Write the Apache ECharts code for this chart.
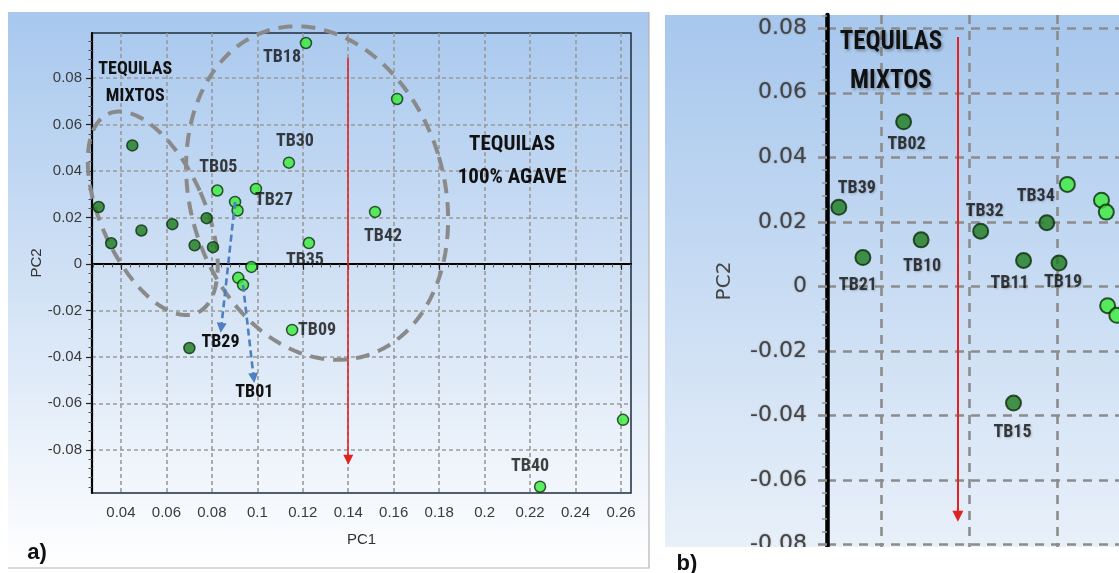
<!DOCTYPE html>
<html>
<head>
<meta charset="utf-8">
<script src="https://cdn.jsdelivr.net/npm/echarts@6/dist/echarts.min.js"></script>
<style>
  html, body { margin: 0; padding: 0; background: #ffffff; }
  #chart { width: 1119px; height: 573px; }
</style>
</head>
<body>
<div id="chart"></div>
<script>
// PCA scores (PC1, PC2) of the tequila samples
const mixtosNames = ['TB39', 'TB21', 'TB02', 'TB10', 'TB32', 'TB11', 'TB34', 'TB19', 'TB15'];
const mixtosPC1 = [0.0302, 0.0357, 0.0450, 0.0490, 0.0626, 0.0724, 0.0777, 0.0805, 0.0701];
const mixtosPC2 = [0.0245, 0.0089, 0.0510, 0.0144, 0.0171, 0.0080, 0.0197, 0.0072, -0.0362];

const agaveNames = ['TB05', 'TB29', '', 'TB27', 'TB30', 'TB18', 'TB35', '', '', 'TB01', 'TB09', 'TB42', '', 'TB40', ''];
const agavePC1 = [0.0824, 0.0902, 0.0913, 0.0994, 0.1139, 0.1214, 0.1227, 0.0974, 0.0916, 0.0937, 0.1153, 0.1518, 0.1615, 0.2244, 0.2609];
const agavePC2 = [0.0316, 0.0267, 0.0230, 0.0323, 0.0436, 0.0951, 0.0090, -0.0013, -0.0060, -0.0090, -0.0284, 0.0224, 0.0710, -0.0959, -0.0671];

// Tick values
const ticksA_PC1 = [0.04, 0.06, 0.08, 0.1, 0.12, 0.14, 0.16, 0.18, 0.2, 0.22, 0.24, 0.26];
const ticksA_PC2 = [-0.08, -0.06, -0.04, -0.02, 0, 0.02, 0.04, 0.06, 0.08];
const ticksB_PC1 = [0.04, 0.06, 0.08];
const ticksB_PC2 = [-0.08, -0.06, -0.04, -0.02, 0, 0.02, 0.04, 0.06, 0.08];

// Visible ranges of the two panels
const rangeA = { pc1: [0.02726, 0.2644], pc2: [-0.0986, 0.0994] };
const rangeB = { pc1: [0.0275, 0.0942], pc2: [-0.0808, 0.0841] };

// Group annotations (data units)
const groupTextA = [
  { text: 'TEQUILAS\nMIXTOS', at: [0.0463, 0.0778], size: 18, lh: 27 },
  { text: 'TEQUILAS\n100% AGAVE', at: [0.2121, 0.0442], size: 21, lh: 33 }
];
const groupTextB = [{ text: 'TEQUILAS\nMIXTOS', at: [0.0421, 0.0694], size: 25, lh: 39 }];
const ellipsesA = [
  { cx: 0.0540, cy: 0.0218, rPC1: 0.0229, rPC2: 0.0469, tilt: -24 },
  { cx: 0.1263, cy: 0.0305, rPC1: 0.0559, rPC2: 0.0731, tilt: -16.5 }
];
const splitArrowA = { pc1: 0.14, from: 0.0888, to: -0.0843 };
const splitArrowB = { pc1: 0.0574, from: 0.0773, to: -0.0713 };
const pointerArrows = [
  { name: 'TB29', to: [0.0841, -0.0275] },
  { name: 'TB01', to: [0.0984, -0.0491] }
];

// Label placement (pixel offsets from the marker centre)
const labelOffsetA = {
  TB05: [1, -23], TB27: [18, 12], TB30: [6, -21], TB18: [-24, 15],
  TB35: [-4, 17], TB09: [25, 1], TB42: [8, 25], TB40: [-10, -20]
};
const labelOffsetB = {
  TB02: [3, 23], TB39: [18, -19], TB21: [-5, 28], TB10: [1, 27], TB32: [4, -20],
  TB34: [-11, -26], TB11: [-14, 23], TB19: [4, 19], TB15: [-1, 29]
};

const BOLD_FONT = "'Liberation Sans Narrow', 'Arial Narrow', 'Roboto Condensed', 'Liberation Sans', sans-serif";
const TICK_FONT_A = "'Liberation Sans Narrow', 'Liberation Sans', Arial, sans-serif";
const TICK_FONT_B = "'DejaVu Sans', 'Liberation Sans', sans-serif";
const DARK = '#1b7a1b', LIGHT = '#38ec38', EDGE = '#0c2c0c';

function minorTicks(lo, hi, step, majors) {
  const out = [];
  for (let k = Math.ceil(lo / step); k * step <= hi; k++) {
    const v = +(k * step).toFixed(5);
    if (!majors.some(m => Math.abs(m - v) < 1e-9)) out.push(v);
  }
  return out;
}
const fmt = v => String(+(+v).toFixed(4));

function points(pc1, pc2, names, offsets) {
  return pc1.map((x, i) => {
    const off = offsets[names[i]];
    return {
      value: [x, pc2[i]],
      name: names[i],
      label: off ? { show: true, offset: off } : { show: false }
    };
  });
}
function lookup(name) {
  const i = agaveNames.indexOf(name);
  return [agavePC1[i], agavePC2[i]];
}

const gridA = { left: 92, top: 33, width: 539, height: 460 };
const gridB = { left: 827, top: 15, width: 292, height: 532 };

const hiddenAxis = {
  axisLine: { show: false }, axisLabel: { show: false }, splitLine: { show: false }
};
const gridLineA = { show: true, lineStyle: { color: '#9a9a9a', width: 1.6, type: [4, 3] } };
const gridLineB = { show: true, lineStyle: { color: '#8c8c8c', width: 2.6, type: [9, 7] } };

const option = {
  animation: false,
  grid: [
    Object.assign({ show: true, borderColor: '#1d2c3e', borderWidth: 1.5, backgroundColor: 'transparent' }, gridA),
    Object.assign({ show: false }, gridB),
    Object.assign({ show: false }, gridA),
    Object.assign({ show: false }, gridB)
  ],
  xAxis: [
    {
      gridIndex: 0, type: 'value', min: rangeA.pc1[0], max: rangeA.pc1[1],
      name: 'PC1', nameLocation: 'middle', nameGap: 39,
      nameTextStyle: { fontFamily: TICK_FONT_A, fontSize: 15, color: '#333' },
      axisLine: { show: true, lineStyle: { color: '#000', width: 2.2 } },
      axisTick: { show: true, customValues: ticksA_PC1, length: 6, lineStyle: { color: '#222', width: 1.2 } },
      axisLabel: { customValues: ticksA_PC1, formatter: fmt, margin: 12, fontFamily: TICK_FONT_A, fontSize: 15, color: '#3a3a3a' },
      splitLine: gridLineA
    },
    {
      gridIndex: 1, type: 'value', min: rangeB.pc1[0], max: rangeB.pc1[1],
      axisLine: { show: false },
      axisTick: { show: true, customValues: ticksB_PC1, length: 0, lineStyle: { color: 'rgba(0,0,0,0)' } },
      axisLabel: { show: true, customValues: ticksB_PC1, color: 'rgba(0,0,0,0)', fontSize: 10 },
      splitLine: gridLineB
    },
    Object.assign({
      gridIndex: 2, type: 'value', min: rangeA.pc1[0], max: rangeA.pc1[1],
      axisTick: { show: true, customValues: minorTicks(rangeA.pc1[0], rangeA.pc1[1], 0.004, ticksA_PC1), length: 3.5, lineStyle: { color: '#555', width: 1 } }
    }, hiddenAxis),
    Object.assign({
      gridIndex: 3, type: 'value', min: rangeB.pc1[0], max: rangeB.pc1[1],
      axisTick: { show: false }
    }, hiddenAxis)
  ],
  yAxis: [
    {
      gridIndex: 0, type: 'value', min: rangeA.pc2[0], max: rangeA.pc2[1],
      name: 'PC2', nameLocation: 'middle', nameGap: 47, nameRotate: 90,
      nameTextStyle: { fontFamily: TICK_FONT_A, fontSize: 15, color: '#333' },
      axisLine: { show: true, lineStyle: { color: '#000', width: 2.2 } },
      axisTick: { show: true, customValues: ticksA_PC2, length: 6, lineStyle: { color: '#222', width: 1.2 } },
      axisLabel: { customValues: ticksA_PC2, formatter: fmt, margin: 10, fontFamily: TICK_FONT_A, fontSize: 15, color: '#3a3a3a' },
      splitLine: gridLineA
    },
    {
      gridIndex: 1, type: 'value', min: rangeB.pc2[0], max: rangeB.pc2[1],
      name: 'PC2', nameLocation: 'middle', nameGap: 92, nameRotate: 90,
      nameTextStyle: { fontFamily: TICK_FONT_B, fontSize: 20, color: '#444' },
      axisLine: { show: true, lineStyle: { color: '#000', width: 4.5 } },
      axisTick: { show: true, customValues: ticksB_PC2, length: 9, lineStyle: { color: '#8c8c8c', width: 2.6 } },
      axisLabel: {
        customValues: ticksB_PC2, formatter: fmt, margin: 20, fontFamily: TICK_FONT_B, fontSize: 22, color: '#444',
        textShadowColor: 'rgba(60,60,60,0.45)', textShadowBlur: 2
      },
      splitLine: gridLineB
    },
    Object.assign({
      gridIndex: 2, type: 'value', min: rangeA.pc2[0], max: rangeA.pc2[1],
      axisTick: { show: true, customValues: minorTicks(rangeA.pc2[0], rangeA.pc2[1], 0.004, ticksA_PC2), length: 3.5, lineStyle: { color: '#555', width: 1 } }
    }, hiddenAxis),
    Object.assign({
      gridIndex: 3, type: 'value', min: rangeB.pc2[0], max: rangeB.pc2[1],
      axisTick: { show: true, customValues: minorTicks(rangeB.pc2[0], rangeB.pc2[1], 0.004, ticksB_PC2), length: 5, lineStyle: { color: '#999', width: 1.5 } }
    }, hiddenAxis)
  ],
  series: [
    {
      name: 'Mixtos', type: 'scatter', xAxisIndex: 0, yAxisIndex: 0, z: 4,
      symbol: 'circle', symbolSize: 11,
      itemStyle: { color: DARK, borderColor: EDGE, borderWidth: 1.5 },
      label: { position: 'inside', formatter: '{b}', fontFamily: BOLD_FONT, fontWeight: 'bold', fontSize: 18, color: '#111' },
      data: points(mixtosPC1, mixtosPC2, mixtosNames, labelOffsetA)
    },
    {
      name: '100% agave', type: 'scatter', xAxisIndex: 0, yAxisIndex: 0, z: 4,
      symbol: 'circle', symbolSize: 11,
      itemStyle: { color: LIGHT, borderColor: EDGE, borderWidth: 1.5 },
      label: { position: 'inside', formatter: '{b}', fontFamily: BOLD_FONT, fontWeight: 'bold', fontSize: 18, color: '#111' },
      data: points(agavePC1, agavePC2, agaveNames, labelOffsetA),
      markLine: {
        silent: true, animation: false, symbol: ['none', 'triangle'], symbolSize: 10,
        label: { show: false },
        data: [
          [
            { coord: [splitArrowA.pc1, splitArrowA.from], lineStyle: { color: '#e0231f', width: 1.6, type: 'solid' }, itemStyle: { color: '#e0231f' } },
            { coord: [splitArrowA.pc1, splitArrowA.to] }
          ]
        ].concat(pointerArrows.map(a => [
          {
            coord: lookup(a.name),
            lineStyle: { color: '#4e7fbe', width: 2.6, type: [7, 4] }, itemStyle: { color: '#4e7fbe' },
            label: { show: true, position: 'end', distance: 6, formatter: a.name, fontFamily: BOLD_FONT, fontWeight: 'bold', fontSize: 18, color: '#111' }
          },
          { coord: a.to }
        ]))
      }
    },
    {
      name: 'Mixtos (detalle)', type: 'scatter', xAxisIndex: 1, yAxisIndex: 1, z: 4,
      symbol: 'circle', symbolSize: 15,
      itemStyle: { color: DARK, borderColor: EDGE, borderWidth: 2 },
      label: {
        position: 'inside', formatter: '{b}', fontFamily: BOLD_FONT, fontWeight: 'bold', fontSize: 18, color: '#111',
        textShadowColor: 'rgba(0,0,0,0.25)', textShadowBlur: 2, textShadowOffsetX: 1, textShadowOffsetY: 1
      },
      data: points(mixtosPC1, mixtosPC2, mixtosNames, labelOffsetB)
    },
    {
      name: '100% agave (detalle)', type: 'scatter', xAxisIndex: 1, yAxisIndex: 1, z: 4,
      symbol: 'circle', symbolSize: 15,
      itemStyle: { color: LIGHT, borderColor: EDGE, borderWidth: 2 },
      label: { show: false },
      data: points(agavePC1, agavePC2, agaveNames, {}),
      markLine: {
        silent: true, animation: false, symbol: ['none', 'triangle'], symbolSize: 11,
        label: { show: false },
        data: [[
          { coord: [splitArrowB.pc1, splitArrowB.from], lineStyle: { color: '#e0231f', width: 2, type: 'solid' }, itemStyle: { color: '#e0231f' } },
          { coord: [splitArrowB.pc1, splitArrowB.to] }
        ]]
      }
    }
  ]
};

const chart = echarts.init(document.getElementById('chart'), null, { renderer: 'canvas', width: 1119, height: 573 });
chart.setOption(option);

// Backgrounds, group outlines and group titles
const px = (g, p) => chart.convertToPixel({ gridIndex: g }, p);

function ellipsePolygon(g, e) {
  const c = px(g, [e.cx, e.cy]);
  const ex = px(g, [e.cx + e.rPC1, e.cy])[0] - c[0];
  const ey = c[1] - px(g, [e.cx, e.cy + e.rPC2])[1];
  const th = e.tilt * Math.PI / 180;
  const pts = [];
  const n = 160;
  for (let i = 0; i < n; i++) {
    const t = i / n * Math.PI * 2;
    const u = ex * Math.cos(t), v = ey * Math.sin(t);
    pts.push([c[0] + u * Math.cos(th) - v * Math.sin(th), c[1] + u * Math.sin(th) + v * Math.cos(th)]);
  }
  return pts;
}

function groupText(g, t, shadow) {
  const p = px(g, t.at);
  const style = {
    text: t.text, x: p[0], y: p[1], align: 'center', verticalAlign: 'middle',
    fontFamily: BOLD_FONT, fontWeight: 'bold', fontSize: t.size, lineHeight: t.lh, fill: '#111'
  };
  if (shadow) Object.assign(style, { textShadowColor: 'rgba(0,0,0,0.3)', textShadowBlur: 3, textShadowOffsetX: 1.5, textShadowOffsetY: 1.5 });
  return { type: 'text', z: 6, style };
}

const graphics = [
  {
    type: 'rect', z: -10, shape: { x: 8, y: 12, width: 641, height: 556 },
    style: {
      fill: new echarts.graphic.LinearGradient(0, 0, 0, 1, [
        { offset: 0, color: '#a8c8ee' }, { offset: 0.5, color: '#d2e2f5' }, { offset: 1, color: '#ffffff' }
      ])
    }
  },
  { type: 'polyline', z: -9, shape: { points: [[649, 12], [649, 568], [8, 568]] }, style: { stroke: '#b4b4b4', lineWidth: 1.2, fill: null } },
  {
    type: 'rect', z: -10, shape: { x: 665, y: 15, width: 454, height: 532 },
    style: {
      fill: new echarts.graphic.LinearGradient(0, 0, 0, 1, [
        { offset: 0, color: '#a7c7ed' }, { offset: 1, color: '#e8f0f9' }
      ])
    }
  },
  // band under panel b (its lower edge is cut off)
  { type: 'rect', z: 50, shape: { x: 655, y: 547, width: 464, height: 26 }, style: { fill: '#ffffff' } },
  { type: 'text', z: 51, style: { text: 'a)', x: 37, y: 553, align: 'center', verticalAlign: 'middle', fontFamily: "'Liberation Sans', sans-serif", fontWeight: 'bold', fontSize: 22, fill: '#111' } },
  { type: 'text', z: 51, style: { text: 'b)', x: 687, y: 564, align: 'center', verticalAlign: 'middle', fontFamily: "'Liberation Sans', sans-serif", fontWeight: 'bold', fontSize: 22, fill: '#111' } }
];
ellipsesA.forEach(e => graphics.push({
  type: 'polygon', z: 1, shape: { points: ellipsePolygon(0, e) },
  style: { fill: null, stroke: '#8a8a8a', lineWidth: 4, lineDash: [14, 9] }
}));
groupTextA.forEach(t => graphics.push(groupText(0, t, false)));
groupTextB.forEach(t => graphics.push(groupText(1, t, true)));

chart.setOption({ graphic: { elements: graphics } });
</script>
</body>
</html>
